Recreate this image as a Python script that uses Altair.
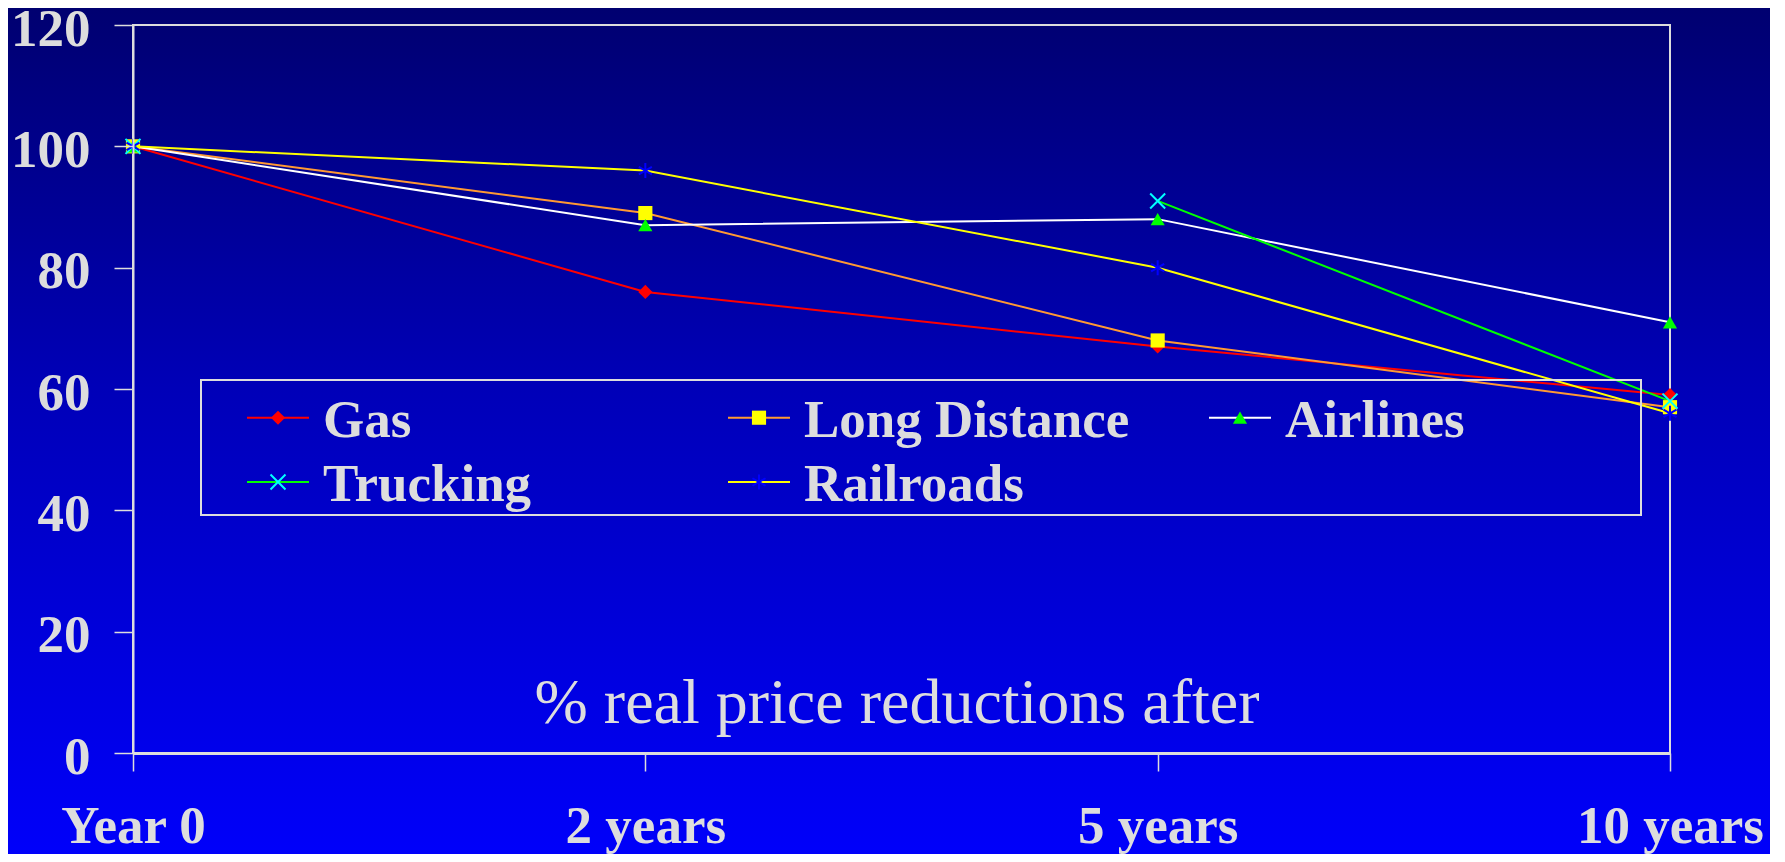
import altair as alt
import pandas as pd

# ---- data ----
periods = ["Year 0", "2 years", "5 years", "10 years"]
series = ["Gas", "Long Distance", "Airlines", "Trucking", "Railroads"]
gas = [100, 76, 67, 59]
long_distance = [100, 89, 68, 57]
airlines = [100, 87, 88, 71]
trucking = [100, None, 91, 58]
railroads = [100, 96, 80, 56]
y_ticks = [0, 20, 40, 60, 80, 100, 120]
note_text = "% real price reductions after"

# ---- styles ----
line_colors = ["#FF0000", "#FF9933", "#FFFFFF", "#00FF00", "#FFFF00"]
marker_colors = ["#FF0000", "#FFFF00", "#00FF00", "#00FFFF", "#0000FF"]
X_PATH = "M-1,-1L1,1M-1,1L1,-1"
STAR_PATH = "M0,-1L0,1M-0.87,-0.5L0.87,0.5M-0.87,0.5L0.87,-0.5"
marker_shapes = ["diamond", "square", "triangle-up", X_PATH, STAR_PATH]
filled_series = ["Gas", "Long Distance", "Airlines"]
stroked_series = ["Trucking", "Railroads"]
legend_cols = [0, 1, 2, 0, 1]
legend_rows = [0, 0, 0, 1, 1]

FONT = "Times New Roman"
TXT = "#DDDDDD"
W, H = 1537, 728
PAD_L, PAD_T, PAD_R, PAD_B = 125, 17, 100, 101

rows = []
for s, vals in zip(series, [gas, long_distance, airlines, trucking, railroads]):
    for p, v in zip(periods, vals):
        rows.append({"series": s, "period": p, "value": v})
df = pd.DataFrame(rows)

legend_df = pd.DataFrame({"series": series, "col": legend_cols, "row": legend_rows})

x_enc = alt.X(
    "period:N",
    sort=periods,
    scale=alt.Scale(type="point", padding=0),
    axis=alt.Axis(
        title=None, labelAngle=0, labelFont=FONT, labelFontSize=53,
        labelFontWeight="bold", labelColor=TXT, labelPadding=29,
        labelLimit=0, labelOverlap=False, labelBound=False,
        tickSize=18, tickColor=TXT, tickWidth=1.5,
        domainColor=TXT, domainWidth=3, grid=False, zindex=2,
    ),
)
y_enc = alt.Y(
    "value:Q",
    scale=alt.Scale(domain=[0, 120], nice=False, zero=True),
    axis=alt.Axis(
        title=None, values=y_ticks, labelFont=FONT, labelFontSize=53,
        labelFontWeight="bold", labelColor=TXT, labelPadding=24,
        labelLimit=0, labelOverlap=False, labelOffset=4,
        tickSize=19, tickColor=TXT, tickWidth=1.5,
        domainColor=TXT, domainWidth=2, grid=False, zindex=2,
    ),
)
color_line = alt.Color("series:N", scale=alt.Scale(domain=series, range=line_colors), legend=None)
shape_enc = alt.Shape("series:N", scale=alt.Scale(domain=series, range=marker_shapes), legend=None)
fill_mark = alt.Fill("series:N", scale=alt.Scale(domain=series, range=marker_colors), legend=None)
stroke_mark = alt.Stroke("series:N", scale=alt.Scale(domain=series, range=marker_colors), legend=None)

base = alt.Chart(df)

lines = base.mark_line(strokeWidth=2, invalid="break-paths-show-domains").encode(
    x=x_enc, y=y_enc, color=color_line, detail="series:N"
)
pts_filled = base.transform_filter(
    alt.FieldOneOfPredicate(field="series", oneOf=filled_series)
).transform_filter("datum.value != null").mark_point(filled=True, size=200, opacity=1).encode(
    x=x_enc, y=y_enc, fill=fill_mark, shape=shape_enc,
)
pts_stroked = base.transform_filter(
    alt.FieldOneOfPredicate(field="series", oneOf=stroked_series)
).transform_filter("datum.value != null").mark_point(filled=False, size=225, strokeWidth=2, opacity=1).encode(
    x=x_enc, y=y_enc, stroke=stroke_mark, shape=shape_enc,
)
data_layer = alt.layer(lines, pts_filled, pts_stroked)

# background gradient over the whole chart
bg = alt.Chart(pd.DataFrame({"a": [0]})).mark_rect(
    color=alt.LinearGradient(
        gradient="linear",
        stops=[
            alt.GradientStop(color="#000070", offset=0),
            alt.GradientStop(color="#0000B8", offset=0.45),
            alt.GradientStop(color="#0000FA", offset=1),
        ],
        x1=0, x2=0, y1=0, y2=1,
    )
).encode(
    x=alt.value(-PAD_L), x2=alt.value(W + PAD_R), y=alt.value(-PAD_T), y2=alt.value(H + PAD_B)
)

# plot-area frame
frame = alt.Chart(pd.DataFrame({"a": [0]})).mark_rect(
    fill=None, stroke=TXT, strokeWidth=2
).encode(x=alt.value(0), x2=alt.value(W), y=alt.value(0), y2=alt.value(H))

note = alt.Chart(pd.DataFrame({"t": [note_text]})).mark_text(
    font=FONT, fontSize=64, color=TXT, align="center", baseline="alphabetic"
).encode(text="t:N", x=alt.value(764), y=alt.value(698))

# legend
leg_box = alt.Chart(pd.DataFrame({"a": [0]})).mark_rect(
    fill=None, stroke=TXT, strokeWidth=2
).encode(x=alt.value(68), x2=alt.value(1508), y=alt.value(355), y2=alt.value(490))

leg = alt.Chart(legend_df).transform_calculate(
    lx1="114 + 481 * datum.col",
    lx2="176 + 481 * datum.col",
    mx="145 + 481 * datum.col",
    tx="190 + 481 * datum.col",
    ly="392.7 + 64.3 * datum.row",
    ty="412 + 64 * datum.row",
)
leg_lines = leg.mark_rule(strokeWidth=2).encode(
    x=alt.X("lx1:Q", scale=None, axis=None), x2="lx2:Q",
    y=alt.Y("ly:Q", scale=None, axis=None), color=color_line
)
leg_pf = leg.transform_filter(
    alt.FieldOneOfPredicate(field="series", oneOf=filled_series)
).mark_point(filled=True, size=200, opacity=1).encode(
    x=alt.X("mx:Q", scale=None, axis=None), y=alt.Y("ly:Q", scale=None, axis=None),
    fill=fill_mark, shape=shape_enc,
)
leg_ps = leg.transform_filter(
    alt.FieldOneOfPredicate(field="series", oneOf=stroked_series)
).mark_point(filled=False, size=225, strokeWidth=2, opacity=1).encode(
    x=alt.X("mx:Q", scale=None, axis=None), y=alt.Y("ly:Q", scale=None, axis=None),
    stroke=stroke_mark, shape=shape_enc,
)
leg_text = leg.mark_text(
    font=FONT, fontSize=53, fontWeight="bold", color=TXT, align="left", baseline="alphabetic"
).encode(
    x=alt.X("tx:Q", scale=None, axis=None), y=alt.Y("ty:Q", scale=None, axis=None), text="series:N"
)

chart = alt.layer(
    bg, frame, data_layer, note, leg_box, leg_lines, leg_pf, leg_ps, leg_text
).resolve_scale(
    x="independent", y="independent"
).properties(
    width=W, height=H,
    autosize=alt.AutoSizeParams(type="none"),
    padding={"left": PAD_L, "top": PAD_T, "right": PAD_R, "bottom": PAD_B},
    background="#000070",
).configure_view(
    strokeWidth=0
)

chart.save("out.html", embed_options={"renderer": "svg", "actions": False})
